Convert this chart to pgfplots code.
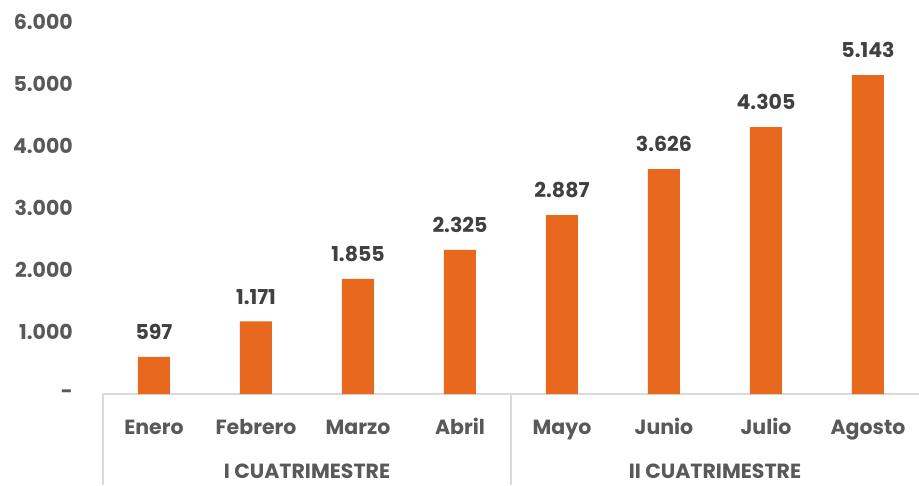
\documentclass[border=0pt]{standalone}
\usepackage{pgfplots}
\pgfplotsset{compat=1.18}
\usepackage{fontspec}
\setmainfont{Poppins}
\definecolor{barc}{HTML}{E8691E}
\definecolor{tx}{HTML}{595959}
\definecolor{lb}{HTML}{404040}
\definecolor{axc}{HTML}{D9D9D9}
\newcommand{\cf}{\fontsize{20.5}{24}\selectfont\bfseries}
\begin{document}
\begin{tikzpicture}
\path[use as bounding box] (0pt,0pt) rectangle (919pt,485pt);
\begin{axis}[
  at={(103pt,91pt)}, anchor=south west,
  scale only axis, width=816pt, height=372pt,
  xmin=-0.5, xmax=7.5, ymin=0, ymax=6000,
  clip=false,
  axis x line*=bottom, axis y line*=left,
  x axis line style={axc, line width=1.5pt},
  y axis line style={draw=none},
  major tick length=0pt,
  ytick={0,1000,2000,3000,4000,5000,6000},
  yticklabels={-,1.000,2.000,3.000,4.000,5.000,6.000},
  yticklabel style={anchor=east, inner sep=0pt, xshift=-30pt, font=\cf, text=tx},
  xtick={0,1,2,3,4,5,6,7},
  xticklabels={Enero,Febrero,Marzo,Abril,Mayo,Junio,Julio,Agosto},
  xticklabel style={anchor=base, inner sep=0pt, yshift=-40pt, font=\cf, text=tx},
  /pgf/number format/assume math mode=true,
  ybar, bar width=32pt,
  nodes near coords={\pgfmathprintnumber[use comma, 1000 sep={.}, fixed, precision=0, assume math mode=true]{\pgfplotspointmeta}},
  nodes near coords style={anchor=south, inner sep=0pt, yshift=17pt, font=\cf, text=lb},
]
\addplot[fill=barc, draw=none] coordinates {(0,597) (1,1171) (2,1855) (3,2325) (4,2887) (5,3626) (6,4305) (7,5143)};
\draw[axc, line width=1.5pt] (axis cs:-0.5,0) -- ++(0pt,-91pt);
\draw[axc, line width=1.5pt] (axis cs:3.5,0) -- ++(0pt,-91pt);
\path (axis cs:1.5,0) ++(0pt,-84pt) node[anchor=base, inner sep=0pt, font=\cf, text=tx] {I CUATRIMESTRE};
\path (axis cs:5.5,0) ++(0pt,-84pt) node[anchor=base, inner sep=0pt, font=\cf, text=tx] {II CUATRIMESTRE};
\end{axis}
\end{tikzpicture}
\end{document}
